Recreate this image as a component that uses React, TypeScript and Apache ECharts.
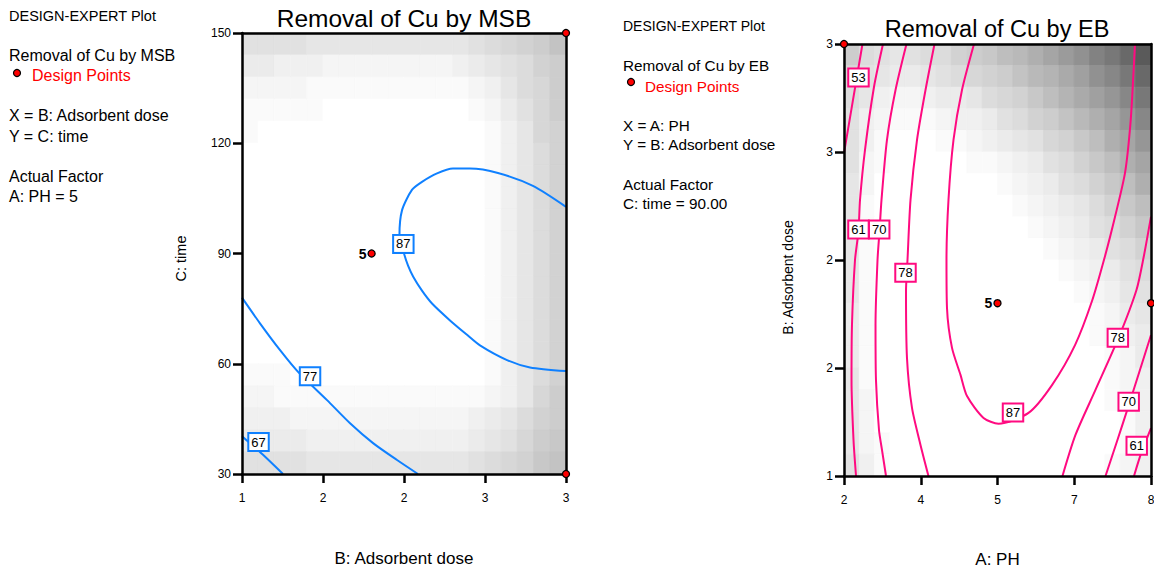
import React, { useEffect, useRef } from 'react';
import * as echarts from 'echarts';

const FONT = '"Liberation Sans", Arial, Helvetica, sans-serif';

// ---------- Panel 1: Removal of Cu by MSB (x = B: Adsorbent dose, y = C: time) ----------
const msbDoseTicks = [1, 1.5, 2, 2.5, 3];
const msbDoseTickLabels = ['1', '2', '2', '3', '3'];
const msbTimeTicks = [30, 60, 90, 120, 150];
const msbTimeTickLabels = ['30', '60', '90', '120', '150'];

const msbContour87 = [
  [3.0, 102.7], [2.796, 108.4], [2.58, 111.9], [2.407, 113.1], [2.302, 113.1], [2.204, 111.8],
  [2.111, 109.5], [2.049, 107.3], [1.988, 101.8], [1.972, 95.0], [2.0, 90.0], [2.025, 86.7],
  [2.057, 83.7], [2.111, 79.9], [2.173, 76.4], [2.284, 71.8], [2.383, 68.1], [2.469, 65.0],
  [2.636, 61.0], [2.778, 59.0], [3.0, 58.0],
];
const msbContour77 = [
  [1.0, 78.0], [1.111, 71.0], [1.235, 63.7], [1.346, 57.8], [1.525, 50.1],
  [1.667, 43.8], [1.809, 38.4], [1.957, 33.8], [2.086, 30.0],
];
const msbContour67 = [[1.0, 40.3], [1.128, 35.3], [1.253, 30.0]];

const msbLabelValues = [87, 77, 67];
const msbLabelAnchors = [[1.996, 92.6], [1.42, 56.6], [1.102, 38.7]];

const msbDesignPoints = [[1.8, 90], [3, 150], [3, 30]];
const msbDesignCounts = ['5', '', ''];

// grey shading (darkness level, 0 = white), rows top -> bottom, cols left -> right
const msbShade = [
  [6, 6, 6, 6, 5, 5, 5, 5, 5, 5, 5, 5, 5, 5, 6, 7, 8, 9, 10, 12],
  [4, 4, 3, 3, 3, 2, 2, 2, 2, 2, 2, 2, 2, 3, 4, 5, 6, 7, 9, 10],
  [2, 2, 2, 2, 1, 1, 1, 1, 1, 1, 1, 1, 1, 1, 2, 3, 5, 7, 8, 10],
  [1, 1, 1, 1, 1, 0, 0, 0, 0, 0, 0, 0, 0, 0, 1, 2, 4, 6, 8, 10],
  [1, 0, 0, 0, 0, 0, 0, 0, 0, 0, 0, 0, 0, 0, 0, 1, 3, 5, 8, 9],
  [0, 0, 0, 0, 0, 0, 0, 0, 0, 0, 0, 0, 0, 0, 0, 1, 3, 5, 7, 9],
  [0, 0, 0, 0, 0, 0, 0, 0, 0, 0, 0, 0, 0, 0, 0, 1, 3, 5, 7, 9],
  [0, 0, 0, 0, 0, 0, 0, 0, 0, 0, 0, 0, 0, 0, 0, 1, 3, 5, 7, 9],
  [0, 0, 0, 0, 0, 0, 0, 0, 0, 0, 0, 0, 0, 0, 0, 1, 3, 5, 7, 9],
  [0, 0, 0, 0, 0, 0, 0, 0, 0, 0, 0, 0, 0, 0, 0, 1, 3, 5, 7, 9],
  [0, 0, 0, 0, 0, 0, 0, 0, 0, 0, 0, 0, 0, 0, 0, 1, 3, 5, 7, 9],
  [0, 0, 0, 0, 0, 0, 0, 0, 0, 0, 0, 0, 0, 0, 0, 1, 3, 5, 7, 9],
  [0, 0, 0, 0, 0, 0, 0, 0, 0, 0, 0, 0, 0, 0, 0, 1, 3, 5, 7, 9],
  [0, 0, 0, 0, 0, 0, 0, 0, 0, 0, 0, 0, 0, 0, 0, 1, 3, 5, 7, 9],
  [0, 0, 0, 0, 0, 0, 0, 0, 0, 0, 0, 0, 0, 0, 0, 1, 3, 5, 7, 9],
  [1, 1, 1, 0, 0, 0, 0, 0, 0, 0, 0, 0, 0, 0, 0, 1, 3, 5, 7, 9],
  [2, 2, 1, 1, 1, 1, 1, 1, 1, 1, 1, 1, 1, 1, 1, 2, 3, 5, 8, 10],
  [3, 3, 3, 2, 2, 2, 2, 2, 2, 2, 2, 2, 2, 2, 3, 4, 5, 7, 9, 10],
  [4, 4, 4, 4, 3, 3, 3, 3, 3, 3, 3, 3, 3, 3, 4, 5, 6, 8, 10, 11],
  [6, 6, 6, 6, 5, 5, 5, 5, 5, 5, 5, 5, 5, 5, 6, 7, 8, 9, 11, 12],
];

// ---------- Panel 2: Removal of Cu by EB (x = A: PH, y = B: Adsorbent dose) ----------
const ebPhTicks = [2, 3.5, 5, 6.5, 8];
const ebPhTickLabels = ['2', '4', '5', '7', '8'];
const ebDoseTicks = [1, 1.5, 2, 2.5, 3];
const ebDoseTickLabels = ['1', '2', '2', '3', '3'];

const ebContour53 = [[2.361, 3.0], [2.176, 2.741], [2.0, 2.495]];
const ebContour61Left = [
  [2.762, 3.0], [2.586, 2.801], [2.41, 2.509], [2.313, 2.278], [2.283, 2.134], [2.215, 2.0],
  [2.156, 1.699], [2.147, 1.444], [2.186, 1.167], [2.235, 1.0],
];
const ebContour70Left = [
  [3.221, 3.0], [3.007, 2.787], [2.84, 2.556], [2.733, 2.278], [2.694, 2.134], [2.655, 2.0],
  [2.616, 1.699], [2.625, 1.444], [2.684, 1.213], [2.743, 1.12], [2.821, 1.0],
];
const ebContour78Left = [
  [3.769, 3.0], [3.593, 2.787], [3.427, 2.556], [3.3, 2.278], [3.241, 2.0], [3.212, 1.856],
  [3.231, 1.546], [3.329, 1.315], [3.495, 1.144], [3.651, 1.0],
];
const ebContour87 = [
  [4.541, 3.0], [4.306, 2.787], [4.14, 2.556], [4.042, 2.278], [4.003, 2.0], [4.013, 1.778],
  [4.111, 1.593], [4.277, 1.468], [4.404, 1.37], [4.727, 1.269], [5.02, 1.242],
  [5.606, 1.292], [6.065, 1.421], [6.515, 1.606], [6.847, 1.81], [7.091, 2.009], [7.296, 2.199],
  [7.492, 2.403], [7.599, 2.634], [7.658, 2.866], [7.687, 3.0],
];
const ebContour78Right = [
  [8.0, 2.201], [7.853, 2.009], [7.716, 1.861], [7.365, 1.639], [6.906, 1.394], [6.524, 1.19], [6.27, 1.0],
];
const ebContour70Right = [[8.0, 1.653], [7.57, 1.331], [7.336, 1.161], [7.111, 1.0]];
const ebContour61Right = [[8.0, 1.222], [7.8, 1.1], [7.668, 1.0]];

const ebLabelValues = [53, 61, 70, 78, 87, 78, 70, 61];
const ebLabelAnchors = [
  [2.283, 2.845], [2.283, 2.141], [2.688, 2.141], [3.202, 1.941],
  [5.303, 1.294], [7.352, 1.64], [7.564, 1.344], [7.721, 1.14],
];

const ebDesignPoints = [[5, 1.8], [2, 3], [8, 1.8]];
const ebDesignCounts = ['5', '', ''];

const ebShade = [
  [10, 7, 6, 5, 6, 7, 7, 9, 10, 11, 13, 14, 16, 18, 20, 22, 25, 27, 30, 33],
  [8, 6, 5, 4, 4, 5, 6, 7, 8, 9, 10, 12, 14, 15, 17, 19, 22, 24, 27, 30],
  [7, 5, 3, 2, 2, 3, 4, 4, 5, 7, 8, 9, 11, 13, 15, 17, 19, 21, 24, 27],
  [6, 3, 2, 1, 1, 1, 2, 3, 3, 4, 6, 7, 9, 10, 12, 14, 16, 18, 21, 24],
  [6, 3, 1, 0, 0, 0, 1, 1, 2, 3, 4, 5, 6, 8, 9, 11, 13, 16, 18, 21],
  [6, 2, 1, 0, 0, 0, 0, 0, 1, 1, 2, 3, 4, 6, 7, 9, 11, 13, 16, 18],
  [5, 2, 0, 0, 0, 0, 0, 0, 0, 0, 1, 2, 3, 4, 6, 7, 9, 11, 13, 16],
  [5, 1, 0, 0, 0, 0, 0, 0, 0, 0, 0, 1, 2, 3, 4, 5, 7, 9, 11, 13],
  [5, 1, 0, 0, 0, 0, 0, 0, 0, 0, 0, 0, 1, 2, 3, 4, 6, 7, 9, 11],
  [5, 1, 0, 0, 0, 0, 0, 0, 0, 0, 0, 0, 0, 1, 2, 3, 4, 6, 7, 9],
  [5, 1, 0, 0, 0, 0, 0, 0, 0, 0, 0, 0, 0, 0, 1, 2, 3, 4, 6, 7],
  [5, 1, 0, 0, 0, 0, 0, 0, 0, 0, 0, 0, 0, 0, 0, 1, 2, 3, 5, 6],
  [4, 1, 0, 0, 0, 0, 0, 0, 0, 0, 0, 0, 0, 0, 0, 0, 1, 2, 4, 5],
  [4, 1, 0, 0, 0, 0, 0, 0, 0, 0, 0, 0, 0, 0, 0, 0, 1, 2, 3, 4],
  [4, 1, 0, 0, 0, 0, 0, 0, 0, 0, 0, 0, 0, 0, 0, 0, 0, 1, 2, 4],
  [5, 1, 0, 0, 0, 0, 0, 0, 0, 0, 0, 0, 0, 0, 0, 0, 0, 1, 2, 3],
  [5, 2, 0, 0, 0, 0, 0, 0, 0, 0, 0, 0, 0, 0, 0, 0, 0, 1, 2, 3],
  [5, 2, 0, 0, 0, 0, 0, 0, 0, 0, 0, 0, 0, 0, 0, 0, 0, 0, 1, 3],
  [5, 2, 1, 0, 0, 0, 0, 0, 0, 0, 0, 0, 0, 0, 0, 0, 0, 0, 1, 3],
  [6, 3, 1, 0, 0, 0, 0, 0, 0, 0, 0, 0, 0, 0, 0, 0, 0, 1, 2, 3],
];

const MSB_COLOR = '#0f80ff';
const EB_COLOR = '#ff0a80';

function tickFormatter(ticks: number[], labels: string[]) {
  return (v: number) => {
    const i = ticks.findIndex((t) => Math.abs(t - v) < 1e-6);
    return i >= 0 ? labels[i] : '';
  };
}

function shadeSeries(matrix: number[][], xMin: number, xMax: number, yMin: number, yMax: number, axisIdx: number) {
  const rows = matrix.length;
  const cols = matrix[0].length;
  const dx = (xMax - xMin) / cols;
  const dy = (yMax - yMin) / rows;
  const data: number[][] = [];
  matrix.forEach((row, r) =>
    row.forEach((lv, c) => data.push([xMin + (c + 0.5) * dx, yMax - (r + 0.5) * dy, lv]))
  );
  return {
    type: 'custom',
    xAxisIndex: axisIdx,
    yAxisIndex: axisIdx,
    z: 1,
    silent: true,
    data,
    renderItem: (_p: any, api: any) => {
      const x = api.value(0);
      const y = api.value(1);
      const lv = api.value(2);
      const p0 = api.coord([x - dx / 2, y + dy / 2]);
      const p1 = api.coord([x + dx / 2, y - dy / 2]);
      const g = Math.max(0, Math.min(255, 255 - 5 * lv));
      const col = `rgb(${g},${g},${g})`;
      return {
        type: 'rect',
        shape: { x: p0[0], y: p0[1], width: p1[0] - p0[0], height: p1[1] - p0[1] },
        style: { fill: col, stroke: col, lineWidth: 0.8 },
      };
    },
  };
}

function contourSeries(data: number[][], color: string, axisIdx: number) {
  return {
    type: 'line',
    xAxisIndex: axisIdx,
    yAxisIndex: axisIdx,
    data,
    showSymbol: false,
    symbol: 'none',
    smooth: 0.25,
    clip: true,
    z: 3,
    silent: true,
    lineStyle: { color, width: 2 },
  };
}

function labelSeries(values: number[], anchors: number[][], color: string, axisIdx: number) {
  return {
    type: 'scatter',
    xAxisIndex: axisIdx,
    yAxisIndex: axisIdx,
    z: 5,
    silent: true,
    symbol: 'circle',
    symbolSize: 1,
    itemStyle: { color: 'rgba(255,255,255,0)', opacity: 1 },
    data: anchors.map((a, i) => [a[0], a[1], values[i]]),
    label: {
      show: true,
      position: 'inside',
      formatter: (p: any) => String(p.value[2]),
      color: '#000',
      opacity: 1,
      fontSize: 13,
      fontFamily: FONT,
      backgroundColor: '#fff',
      borderColor: color,
      borderWidth: 2,
      padding: [2, 2, 1, 2],
    },
  };
}

function designSeries(points: number[][], counts: string[], axisIdx: number) {
  return {
    type: 'scatter',
    xAxisIndex: axisIdx,
    yAxisIndex: axisIdx,
    z: 12,
    clip: false,
    silent: true,
    symbol: 'circle',
    symbolSize: 7,
    itemStyle: { color: '#ff0000', borderColor: '#000', borderWidth: 1.3, opacity: 1 },
    data: points.map((p, i) => [p[0], p[1], counts[i]]),
    label: {
      show: true,
      position: 'left',
      distance: 1,
      formatter: (p: any) => p.value[2],
      color: '#000',
      fontSize: 14,
      fontWeight: 'bold',
      fontFamily: FONT,
    },
  };
}

function mainXAxis(gridIndex: number, min: number, max: number, interval: number, ticks: number[], labels: string[], name: string, nameGap: number) {
  return {
    type: 'value', gridIndex, position: 'bottom', min, max, interval, z: 8,
    name, nameLocation: 'middle', nameGap,
    nameTextStyle: { color: '#000', fontSize: 17, fontFamily: FONT },
    axisLine: { show: true, onZero: false, lineStyle: { color: '#000', width: 2.5 } },
    axisTick: { show: true, length: 9, lineStyle: { color: '#000', width: 2.5 } },
    axisLabel: { color: '#000', fontSize: 12, fontFamily: FONT, margin: 18, formatter: tickFormatter(ticks, labels) },
    splitLine: { show: false },
  };
}

function mainYAxis(gridIndex: number, min: number, max: number, interval: number, ticks: number[], labels: string[]) {
  return {
    type: 'value', gridIndex, position: 'left', min, max, interval, z: 8,
    axisLine: { show: true, onZero: false, lineStyle: { color: '#000', width: 2.5 } },
    axisTick: { show: true, length: 9, lineStyle: { color: '#000', width: 2.5 } },
    axisLabel: { color: '#000', fontSize: 12, fontFamily: FONT, margin: 11, formatter: tickFormatter(ticks, labels) },
    splitLine: { show: false },
  };
}

function frameAxis(kind: 'x' | 'y', gridIndex: number, min: number, max: number) {
  return {
    type: 'value', gridIndex, position: kind === 'x' ? 'top' : 'right', min, max, z: 8,
    axisLine: { show: true, onZero: false, lineStyle: { color: '#000', width: 2.5 } },
    axisTick: { show: false },
    axisLabel: { show: false },
    splitLine: { show: false },
  };
}

function txt(text: string, x: number, y: number, opts: any = {}) {
  return {
    type: 'text',
    x,
    y,
    z: 20,
    rotation: opts.rotation || 0,
    silent: true,
    style: {
      text,
      fill: opts.fill || '#000',
      font: `${opts.size || 16}px ${FONT}`,
      textAlign: opts.align || 'left',
      textVerticalAlign: 'middle',
      align: opts.align || 'left',
      verticalAlign: 'middle',
    },
  };
}

function dot(x: number, y: number) {
  return {
    type: 'circle',
    x,
    y,
    z: 20,
    silent: true,
    shape: { cx: 0, cy: 0, r: 3.5 },
    style: { fill: '#ff0000', stroke: '#000', lineWidth: 1.2 },
  };
}

function buildOption() {
  const P2 = 15.3;
  return {
    animation: false,
    backgroundColor: '#ffffff',
    grid: [
      { left: 242, top: 33, width: 324, height: 441, show: false, containLabel: false, outerBoundsMode: 'none' },
      { left: 844, top: 44, width: 307, height: 432, show: false, containLabel: false, outerBoundsMode: 'none' },
    ],
    xAxis: [
      mainXAxis(0, 1, 3, 0.5, msbDoseTicks, msbDoseTickLabels, 'B: Adsorbent dose', 75.5),
      frameAxis('x', 0, 1, 3),
      mainXAxis(1, 2, 8, 1.5, ebPhTicks, ebPhTickLabels, 'A: PH', 74.5),
      frameAxis('x', 1, 2, 8),
    ],
    yAxis: [
      mainYAxis(0, 30, 150, 30, msbTimeTicks, msbTimeTickLabels),
      frameAxis('y', 0, 30, 150),
      mainYAxis(1, 1, 3, 0.5, ebDoseTicks, ebDoseTickLabels),
      frameAxis('y', 1, 1, 3),
    ],
    series: [
      shadeSeries(msbShade, 1, 3, 30, 150, 0),
      contourSeries(msbContour87, MSB_COLOR, 0),
      contourSeries(msbContour77, MSB_COLOR, 0),
      contourSeries(msbContour67, MSB_COLOR, 0),
      labelSeries(msbLabelValues, msbLabelAnchors, MSB_COLOR, 0),
      designSeries(msbDesignPoints, msbDesignCounts, 0),

      shadeSeries(ebShade, 2, 8, 1, 3, 2),
      contourSeries(ebContour53, EB_COLOR, 2),
      contourSeries(ebContour61Left, EB_COLOR, 2),
      contourSeries(ebContour70Left, EB_COLOR, 2),
      contourSeries(ebContour78Left, EB_COLOR, 2),
      contourSeries(ebContour87, EB_COLOR, 2),
      contourSeries(ebContour78Right, EB_COLOR, 2),
      contourSeries(ebContour70Right, EB_COLOR, 2),
      contourSeries(ebContour61Right, EB_COLOR, 2),
      labelSeries(ebLabelValues, ebLabelAnchors, EB_COLOR, 2),
      designSeries(ebDesignPoints, ebDesignCounts, 2),
    ],
    graphic: [
      txt('Removal of Cu by MSB', 404, 18, { size: 24.5, align: 'center' }),
      txt('Removal of Cu by EB', 997, 28.5, { size: 23.5, align: 'center' }),
      txt('C: time', 181, 258.5, { size: 14.5, align: 'center', rotation: Math.PI / 2 }),
      txt('B: Adsorbent dose', 787.5, 277.5, { size: 14, align: 'center', rotation: Math.PI / 2 }),

      txt('DESIGN-EXPERT Plot', 9, 16, { size: 14.5 }),
      txt('Removal of Cu by MSB', 9, 55),
      dot(17, 73),
      txt('Design Points', 32, 75, { fill: '#ff0000' }),
      txt('X = B: Adsorbent dose', 9, 115),
      txt('Y = C: time', 9, 136),
      txt('Actual Factor', 9, 176),
      txt('A: PH = 5', 9, 196),

      txt('DESIGN-EXPERT Plot', 623, 26, { size: 14 }),
      txt('Removal of Cu by EB', 623, 65, { size: P2 }),
      dot(631, 82),
      txt('Design Points', 645, 86, { fill: '#ff0000', size: P2 }),
      txt('X = A: PH', 623, 125, { size: P2 }),
      txt('Y = B: Adsorbent dose', 623, 144, { size: P2 }),
      txt('Actual Factor', 623, 184, { size: P2 }),
      txt('C: time = 90.00', 623, 203, { size: P2 }),
    ],
  };
}

export default function App() {
  const ref = useRef<HTMLDivElement>(null);
  useEffect(() => {
    if (!ref.current) return;
    const chart = echarts.init(ref.current, undefined, { renderer: 'svg' });
    chart.setOption(buildOption() as any);
    return () => chart.dispose();
  }, []);
  return (
    <div
      ref={ref}
      style={{ position: 'fixed', left: 0, top: 0, width: 1154, height: 569, background: '#fff' }}
    />
  );
}
